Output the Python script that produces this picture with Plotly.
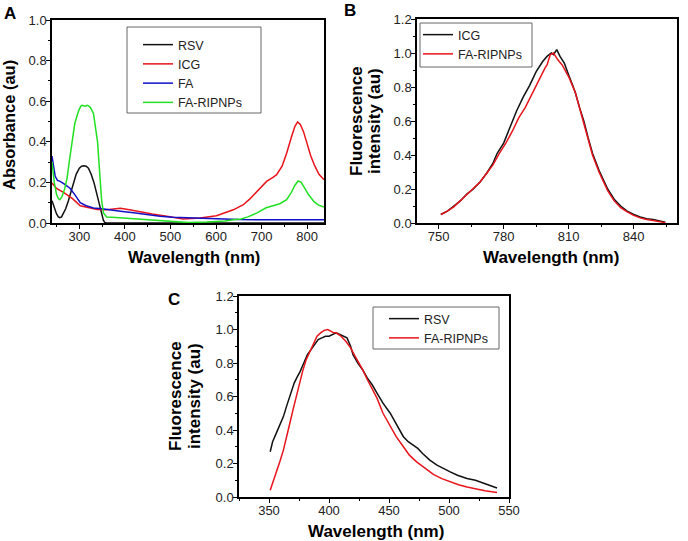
import plotly.graph_objects as go

# ---------- Panel A: absorbance ----------
a_rsv_x = [240, 245, 250, 254, 257, 261, 265, 270, 276, 282, 287, 293, 300, 305, 310, 315, 320, 326, 332, 339, 343, 346, 350, 353, 356, 360, 400, 500, 600, 700, 837]
a_rsv_y = [0.11, 0.075, 0.045, 0.03, 0.026, 0.03, 0.045, 0.07, 0.11, 0.155, 0.2, 0.24, 0.27, 0.28, 0.282, 0.28, 0.27, 0.24, 0.2, 0.14, 0.1, 0.07, 0.035, 0.012, 0.003, 0.0, 0.0, 0.0, 0.0, 0.0, 0.0]

a_icg_x = [240, 250, 266, 285, 302, 320, 339, 360, 375, 390, 410, 434, 460, 492, 528, 565, 601, 638, 660, 675, 695, 711, 725, 733, 745, 755, 765, 773, 779, 785, 792, 799, 808, 817, 826, 837]
a_icg_y = [0.197, 0.17, 0.15, 0.12, 0.085, 0.075, 0.066, 0.065, 0.07, 0.073, 0.065, 0.054, 0.044, 0.033, 0.02, 0.025, 0.036, 0.065, 0.09, 0.12, 0.17, 0.205, 0.225, 0.238, 0.28, 0.344, 0.42, 0.475, 0.498, 0.485, 0.45, 0.393, 0.33, 0.28, 0.24, 0.213]

a_fa_x = [240, 243, 247, 252, 258, 268, 280, 290, 302, 315, 331, 350, 368, 390, 419, 450, 477, 505, 536, 570, 601, 650, 700, 750, 800, 837]
a_fa_y = [0.33, 0.29, 0.23, 0.21, 0.205, 0.19, 0.17, 0.14, 0.10, 0.085, 0.074, 0.07, 0.066, 0.058, 0.05, 0.04, 0.033, 0.028, 0.025, 0.022, 0.02, 0.017, 0.016, 0.016, 0.016, 0.016]

a_np_x = [240, 245, 250, 254, 257, 262, 268, 273, 279, 284, 290, 298, 303, 306, 312, 318, 324, 331, 336, 340, 343, 346, 349, 353, 357, 360, 380, 400, 450, 500, 540, 580, 620, 638, 655, 670, 690, 710, 725, 740, 755, 765, 773, 780, 787, 795, 803, 815, 825, 837]
a_np_y = [0.3, 0.2, 0.14, 0.12, 0.115, 0.13, 0.17, 0.22, 0.32, 0.41, 0.49, 0.55, 0.575, 0.58, 0.575, 0.58, 0.57, 0.54, 0.47, 0.4, 0.3, 0.2, 0.11, 0.05, 0.035, 0.03, 0.027, 0.024, 0.015, 0.006, 0.002, 0.005, 0.01, 0.016, 0.02, 0.03, 0.05, 0.075, 0.085, 0.095, 0.115, 0.15, 0.185, 0.207, 0.2, 0.17, 0.14, 0.105, 0.088, 0.078]

# ---------- Panel B: fluorescence (ICG) ----------
b_icg_x = [751, 754, 757, 760, 763, 766, 769, 772, 775, 777, 780, 783, 786, 789, 792, 795, 798, 800, 802, 803, 804.5, 806, 808, 810, 813, 815, 817, 819, 821, 824, 826, 828, 831, 834, 837, 840, 843, 846, 849, 852, 854.6]
b_icg_y = [0.05, 0.07, 0.1, 0.13, 0.17, 0.2, 0.24, 0.29, 0.35, 0.41, 0.47, 0.57, 0.66, 0.74, 0.81, 0.89, 0.95, 0.98, 1.0, 0.99, 1.02, 0.98, 0.94, 0.87, 0.77, 0.68, 0.6, 0.5, 0.41, 0.31, 0.25, 0.2, 0.14, 0.1, 0.07, 0.05, 0.035, 0.025, 0.02, 0.01, 0.005]

b_np_x = [751, 754, 757, 760, 763, 766, 769, 772, 775, 778, 781, 784, 787, 790, 793, 795, 797, 799, 800, 801.5, 803, 805, 807, 810, 813, 815, 817, 819, 821, 824, 826, 828, 831, 834, 837, 840, 843, 846, 849, 852, 854.6]
b_np_y = [0.05, 0.07, 0.095, 0.13, 0.165, 0.2, 0.24, 0.29, 0.34, 0.41, 0.47, 0.54, 0.62, 0.68, 0.76, 0.81, 0.86, 0.91, 0.93, 0.99, 1.0, 0.96, 0.93, 0.86, 0.77, 0.68, 0.59, 0.49, 0.4, 0.3, 0.24, 0.19, 0.13, 0.09, 0.065, 0.045, 0.03, 0.02, 0.015, 0.008, 0.002]

# ---------- Panel C: fluorescence (RSV) ----------
c_rsv_x = [351, 353, 356, 359, 362, 365, 368, 371, 373, 376, 379, 382, 385, 388, 391, 394, 397, 400, 403, 406, 409, 412, 415, 418, 420, 424, 428, 432, 436, 440, 445, 451, 456, 462, 466, 470, 474, 478, 484, 490, 495, 501, 507, 515, 522, 529, 535, 540]
c_rsv_y = [0.27, 0.33, 0.38, 0.43, 0.48, 0.55, 0.62, 0.68, 0.71, 0.75, 0.8, 0.85, 0.88, 0.91, 0.94, 0.95, 0.96, 0.96, 0.97, 0.98, 0.97, 0.96, 0.95, 0.9, 0.85, 0.8, 0.76, 0.71, 0.67, 0.62, 0.56, 0.5, 0.44, 0.36, 0.33, 0.31, 0.29, 0.26, 0.22, 0.19, 0.17, 0.15, 0.13, 0.11, 0.1, 0.083, 0.07, 0.054]

c_np_x = [351, 353, 356, 359, 362, 365, 367, 370, 373, 376, 378, 381, 384, 387, 390, 393, 396, 399, 401, 404, 406, 410, 414, 418, 421, 425, 428, 432, 436, 440, 445, 451, 456, 462, 467, 473, 480, 487, 494, 501, 508, 515, 522, 530, 540]
c_np_y = [0.04, 0.08, 0.14, 0.21, 0.28, 0.36, 0.43, 0.52, 0.61, 0.69, 0.75, 0.82, 0.87, 0.92, 0.96, 0.98, 0.995, 1.0, 0.99, 0.98, 0.98, 0.96, 0.93, 0.89, 0.85, 0.8, 0.76, 0.7, 0.64, 0.59, 0.5, 0.42, 0.36, 0.3, 0.25, 0.21, 0.17, 0.135, 0.11, 0.09, 0.073, 0.06, 0.048, 0.037, 0.027]

BLACK = "#111111"
RED = "#e8141c"
BLUE = "#1010c8"
GREEN = "#22e022"
FONT = "Liberation Sans, Arial, sans-serif"

fig = go.Figure()

def add(x, y, name, color, xa, ya, legend):
    fig.add_trace(go.Scatter(x=x, y=y, name=name, mode="lines",
                             line=dict(color=color, width=1.5),
                             xaxis=xa, yaxis=ya, legend=legend))

add(a_rsv_x, a_rsv_y, "RSV", BLACK, "x", "y", "legend")
add(a_icg_x, a_icg_y, "ICG", RED, "x", "y", "legend")
add(a_fa_x, a_fa_y, "FA", BLUE, "x", "y", "legend")
add(a_np_x, a_np_y, "FA-RIPNPs", GREEN, "x", "y", "legend")
add(b_icg_x, b_icg_y, "ICG", BLACK, "x2", "y2", "legend2")
add(b_np_x, b_np_y, "FA-RIPNPs", RED, "x2", "y2", "legend2")
add(c_rsv_x, c_rsv_y, "RSV", BLACK, "x3", "y3", "legend3")
add(c_np_x, c_np_y, "FA-RIPNPs", RED, "x3", "y3", "legend3")

W, H = 688, 541
def px(v): return v / W
def py(v): return (H - v) / H

axis_common = dict(showline=True, linecolor="black", linewidth=1.5, mirror=True,
                   ticks="outside", ticklen=4, tickwidth=1.2, tickcolor="black",
                   showgrid=False, zeroline=False, automargin=False,
                   ticklabelstandoff=-3,
                   tickfont=dict(family=FONT, size=13, color="#222"))

def minor(d):
    return dict(dtick=d, ticks="outside", ticklen=2.5, tickwidth=1, tickcolor="black", showgrid=False)

fig.update_layout(
    template="none",
    width=W, height=H, margin=dict(l=0, r=0, t=0, b=0, autoexpand=False),
    paper_bgcolor="white", plot_bgcolor="white",
    font=dict(family=FONT, color="black"),
    xaxis=dict(domain=[px(52), px(324)], range=[240, 837], dtick=100, tick0=0,
               minor=minor(50), anchor="y", **axis_common),
    yaxis=dict(domain=[py(223), py(20)], range=[0, 1.0], dtick=0.2, tickformat=".1f",
               minor=minor(0.1), anchor="x", **axis_common),
    xaxis2=dict(domain=[px(417), px(677)], range=[740, 860], dtick=30, tick0=750,
                minor=minor(15), anchor="y2", **axis_common),
    yaxis2=dict(domain=[py(223), py(19)], range=[0, 1.2], dtick=0.2, tickformat=".1f",
                minor=minor(0.1), anchor="x2", **axis_common),
    xaxis3=dict(domain=[px(239), px(509)], range=[325, 550], dtick=50, tick0=0,
                minor=minor(25), anchor="y3", **axis_common),
    yaxis3=dict(domain=[py(497), py(296)], range=[0, 1.2], dtick=0.2, tickformat=".1f",
                minor=minor(0.1), anchor="x3", **axis_common),
)

# legend frames
boxes = [(127, 27, 261, 113), (420, 23, 532, 67), (373, 307, 499, 349)]
shapes = []
for x0, y0, x1, y1 in boxes:
    shapes.append(dict(type="rect", xref="paper", yref="paper",
                       x0=px(x0), x1=px(x1), y0=py(y1), y1=py(y0),
                       line=dict(color="#666", width=1), fillcolor="white", layer="above"))
fig.update_layout(shapes=shapes)

leg_common = dict(bgcolor="rgba(0,0,0,0)", borderwidth=0,
                  font=dict(family=FONT, size=12.5, color="#222"),
                  xanchor="left", yanchor="top", tracegroupgap=0)
fig.update_layout(
    legend=dict(x=px(138), y=py(30), **leg_common),
    legend2=dict(x=px(418), y=py(20), **leg_common),
    legend3=dict(x=px(384), y=py(304), **leg_common),
)

tf_a = dict(family=FONT, size=16.5, color="black")
tf = dict(family=FONT, size=17, color="black")
letter = dict(family=FONT, size=17, color="black")
annots = [
    # panel letters
    dict(x=px(2), y=py(2), text="<b>A</b>", xanchor="left", yanchor="top", font=letter),
    dict(x=px(342), y=py(-1), text="<b>B</b>", xanchor="left", yanchor="top", font=letter),
    dict(x=px(166), y=py(288), text="<b>C</b>", xanchor="left", yanchor="top", font=letter),
    # axis titles
    dict(x=px(194), y=py(257), text="<b>Wavelength (nm)</b>", xanchor="center", yanchor="middle", font=tf_a),
    dict(x=px(9), y=py(125), text="<b>Absorbance (au)</b>", textangle=-90, xanchor="center", yanchor="middle", font=tf_a),
    dict(x=px(551), y=py(257), text="<b>Wavelength (nm)</b>", xanchor="center", yanchor="middle", font=tf),
    dict(x=px(356), y=py(121), text="<b>Fluorescence</b>", textangle=-90, xanchor="center", yanchor="middle", font=tf),
    dict(x=px(374), y=py(121), text="<b>intensity (au)</b>", textangle=-90, xanchor="center", yanchor="middle", font=tf),
    dict(x=px(375.5), y=py(531), text="<b>Wavelength (nm)</b>", xanchor="center", yanchor="middle", font=tf),
    dict(x=px(176), y=py(396), text="<b>Fluorescence</b>", textangle=-90, xanchor="center", yanchor="middle", font=tf),
    dict(x=px(195), y=py(396), text="<b>intensity (au)</b>", textangle=-90, xanchor="center", yanchor="middle", font=tf),
]
for a in annots:
    a.update(xref="paper", yref="paper", showarrow=False)
fig.update_layout(annotations=annots)

fig.write_html("out.html", config={"displayModeBar": False},
               post_script="document.body.style.margin='0';document.body.style.overflow='hidden';")
